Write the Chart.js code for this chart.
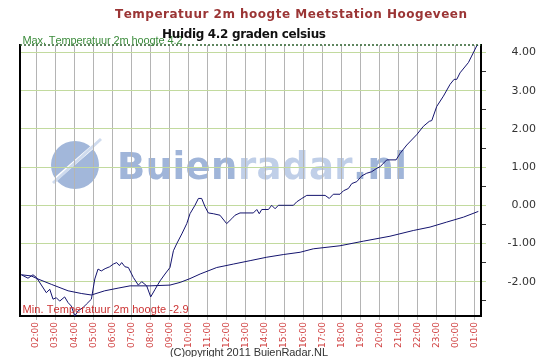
<!DOCTYPE html>
<html>
<head>
<meta charset="utf-8">
<script src="https://cdn.jsdelivr.net/npm/chart.js@4.4.0/dist/chart.umd.min.js"></script>
<style>
  html, body { margin: 0; padding: 0; background: #fff; }
  #chart { display: block; }
</style>
</head>
<body>
<canvas id="chart" width="536" height="357"></canvas>
<script>
// Measured temperature (hours since midnight of day 1, degrees C)
const tempHours = [1.23,1.58,1.84,2.02,2.54,2.72,2.89,3.06,3.24,3.50,3.68,3.85,4.03,4.20,4.46,4.64,4.90,5.08,5.25,5.42,5.62,5.86,6.05,6.23,6.37,6.49,6.66,6.84,7.10,7.36,7.54,7.80,8.01,8.24,8.50,8.76,9.02,9.20,9.37,9.64,9.90,10.07,10.33,10.51,10.68,10.86,11.03,11.29,11.64,11.99,12.26,12.43,12.69,13.39,13.57,13.70,13.83,14.18,14.35,14.53,14.70,15.49,15.66,15.93,16.19,17.15,17.37,17.58,17.93,18.11,18.37,18.55,18.81,19.07,19.33,19.59,19.86,20.03,20.38,20.87,21.08,21.43,21.95,22.30,22.61,22.74,23.00,23.35,23.70,23.91,24.05,24.22,24.66,24.83,25.10,25.18];
const tempValues = [-1.82,-1.91,-1.82,-1.89,-2.29,-2.20,-2.46,-2.42,-2.51,-2.40,-2.55,-2.64,-2.90,-2.77,-2.68,-2.59,-2.46,-1.93,-1.67,-1.72,-1.66,-1.61,-1.54,-1.50,-1.58,-1.50,-1.61,-1.63,-1.89,-2.09,-2.00,-2.11,-2.40,-2.20,-1.98,-1.80,-1.63,-1.19,-1.01,-0.75,-0.48,-0.22,0.00,0.18,0.18,-0.04,-0.20,-0.22,-0.26,-0.48,-0.35,-0.26,-0.20,-0.20,-0.11,-0.22,-0.11,-0.11,0.00,-0.09,0.00,0.00,0.09,0.18,0.26,0.26,0.18,0.29,0.29,0.38,0.44,0.57,0.62,0.77,0.84,0.88,0.97,1.01,1.19,1.19,1.36,1.58,1.85,2.07,2.20,2.22,2.59,2.86,3.17,3.30,3.30,3.47,3.74,3.91,4.18,4.20];

// Smooth second line
const trendHours = [1.23,1.75,2.10,2.80,3.68,4.37,4.90,5.60,6.30,6.93,7.97,9.02,9.55,10.07,10.60,11.47,12.34,13.22,14.09,14.96,15.84,16.53,17.93,19.15,20.55,21.77,22.65,23.52,24.40,25.18];
const trendValues = [-1.82,-1.85,-1.93,-2.07,-2.24,-2.31,-2.35,-2.24,-2.17,-2.11,-2.11,-2.09,-2.02,-1.92,-1.80,-1.63,-1.54,-1.45,-1.36,-1.29,-1.23,-1.14,-1.06,-0.94,-0.81,-0.66,-0.57,-0.44,-0.31,-0.16];

// Axis ticks
const xTickHours = [2,3,4,5,6,7,8,9,10,11,12,13,14,15,16,17,18,19,20,21,22,23,24,25];
const xTickLabels = ['02:00','03:00','04:00','05:00','06:00','07:00','08:00','09:00','10:00','11:00','12:00','13:00','14:00','15:00','16:00','17:00','18:00','19:00','20:00','21:00','22:00','23:00','00:00','01:00'];
const yTickValues = [-2.5,-2,-1.5,-1,-0.5,0,0.5,1,1.5,2,2.5,3,3.5,4];

const maxTemp = 4.2;
const minTemp = -2.9;

const isWhole = v => Math.abs(v - Math.round(v)) < 1e-6;

/**
 * Draw text char by char, spreading it to a given width
 */
function drawSpaced(ctx, text, x, y, width, colorAt) {
    const chars = [...text];
    const widths = chars.map(c => ctx.measureText(c).width);
    const total = widths.reduce((a, b) => a + b, 0);
    const sp = (width - total) / (chars.length - 1);
    let cx = x;
    chars.forEach((c, i) => {
        if (colorAt) ctx.fillStyle = colorAt(i);
        ctx.fillText(c, cx, y);
        cx += widths[i] + sp;
    });
}

const decorPlugin = {
    id: 'decor',
    beforeDraw(chart) {
        const ctx = chart.ctx;
        ctx.save();
        // watermark logo
        ctx.fillStyle = '#a2b7da';
        ctx.beginPath();
        ctx.arc(75, 165, 24, 0, Math.PI * 2);
        ctx.fill();
        ctx.strokeStyle = '#ffffff';
        ctx.lineWidth = 4;
        ctx.beginPath();
        ctx.moveTo(50, 184);
        ctx.lineTo(96, 144);
        ctx.stroke();
        ctx.strokeStyle = '#cfdbee';
        ctx.lineWidth = 3;
        ctx.beginPath();
        ctx.moveTo(53, 183);
        ctx.lineTo(101, 139);
        ctx.stroke();
        // watermark text
        ctx.font = 'bold 37px "DejaVu Sans"';
        ctx.textBaseline = 'alphabetic';
        drawSpaced(ctx, 'Buienradar.nl', 117, 179, 290, i => (i < 5 || i > 9) ? '#a0b5d9' : '#c0cfe8');
        ctx.restore();
    },
    afterDatasetsDraw(chart) {
        const ctx = chart.ctx;
        const area = chart.chartArea;
        const yMax = chart.scales.y.getPixelForValue(maxTemp);
        ctx.save();
        ctx.strokeStyle = '#2a5e2a';
        ctx.lineWidth = 1.5;
        ctx.setLineDash([2, 2]);
        ctx.beginPath();
        ctx.moveTo(area.left, yMax);
        ctx.lineTo(area.right, yMax);
        ctx.stroke();
        ctx.setLineDash([]);

        ctx.textBaseline = 'alphabetic';
        ctx.font = '11px "Liberation Sans"';
        ctx.fillStyle = '#3c8c3c';
        drawSpaced(ctx, 'Max. Temperatuur 2m hoogte ' + maxTemp.toFixed(1), 22.5, 43.5, 160);
        ctx.fillStyle = '#cc3333';
        drawSpaced(ctx, 'Min. Temperatuur 2m hoogte ' + minTemp.toFixed(1), 22.5, 313, 166);
        ctx.restore();
    },
    afterDraw(chart) {
        const ctx = chart.ctx;
        ctx.save();
        ctx.textBaseline = 'alphabetic';
        ctx.font = 'bold 12px "DejaVu Sans"';
        ctx.fillStyle = '#9b3535';
        drawSpaced(ctx, 'Temperatuur 2m hoogte Meetstation Hoogeveen', 115, 18, 352);
        ctx.fillStyle = '#111111';
        drawSpaced(ctx, 'Huidig 4.2 graden celsius', 162, 38, 164);
        ctx.font = '11px "Liberation Sans"';
        ctx.fillStyle = '#333333';
        drawSpaced(ctx, '(C)opyright 2011 BuienRadar.NL', 170, 356, 158);
        ctx.restore();
    }
};

const lineColor = '#14146e';

new Chart(document.getElementById('chart'), {
    type: 'line',
    data: {
        datasets: [{
            label: 'Temperatuur',
            data: tempHours.map((h, i) => ({ x: h, y: tempValues[i] })),
            borderColor: lineColor,
            borderWidth: 1,
            pointRadius: 0,
            tension: 0,
            yAxisID: 'y'
        }, {
            label: 'Trend',
            data: trendHours.map((h, i) => ({ x: h, y: trendValues[i] })),
            borderColor: lineColor,
            borderWidth: 1,
            pointRadius: 0,
            tension: 0,
            yAxisID: 'y'
        }]
    },
    options: {
        responsive: false,
        animation: false,
        layout: { padding: { top: 45, left: 20, right: 0, bottom: 0 } },
        plugins: {
            legend: { display: false },
            tooltip: { enabled: false }
        },
        scales: {
            x: {
                type: 'linear',
                min: 1.16,
                max: 25.32,
                afterFit: s => { s.height = 41; },
                afterBuildTicks: s => { s.ticks = xTickHours.map(v => ({ value: v })); },
                grid: { color: '#b4b4b4', lineWidth: 1, tickLength: 4, tickColor: '#b4b4b4' },
                border: { color: '#000', width: 2 },
                ticks: {
                    minRotation: 90,
                    maxRotation: 90,
                    autoSkip: false,
                    padding: 2,
                    color: '#d04040',
                    font: { family: 'DejaVu Sans', size: 9 },
                    callback: v => xTickLabels[xTickHours.indexOf(v)]
                }
            },
            y: {
                position: 'right',
                min: minTemp,
                max: maxTemp,
                afterFit: s => { s.width = 55; },
                afterBuildTicks: s => { s.ticks = yTickValues.map(v => ({ value: v })); },
                grid: {
                    color: c => isWhole(c.tick.value) ? '#c2da9e' : 'rgba(0,0,0,0)',
                    tickColor: c => isWhole(c.tick.value) ? '#c2da9e' : '#333',
                    tickLength: 5,
                    lineWidth: 1
                },
                border: { color: '#000', width: 2 },
                ticks: {
                    crossAlign: 'far',
                    padding: 6,
                    color: '#333',
                    font: { family: 'DejaVu Sans', size: 11 },
                    callback: v => isWhole(v) ? v.toFixed(2) : ''
                }
            },
            yLeft: {
                position: 'left',
                min: minTemp,
                max: maxTemp,
                afterFit: s => { s.width = 0; },
                grid: { drawOnChartArea: false, drawTicks: false },
                ticks: { display: false },
                border: { color: '#000', width: 2 }
            }
        }
    },
    plugins: [decorPlugin]
});
</script>
</body>
</html>
